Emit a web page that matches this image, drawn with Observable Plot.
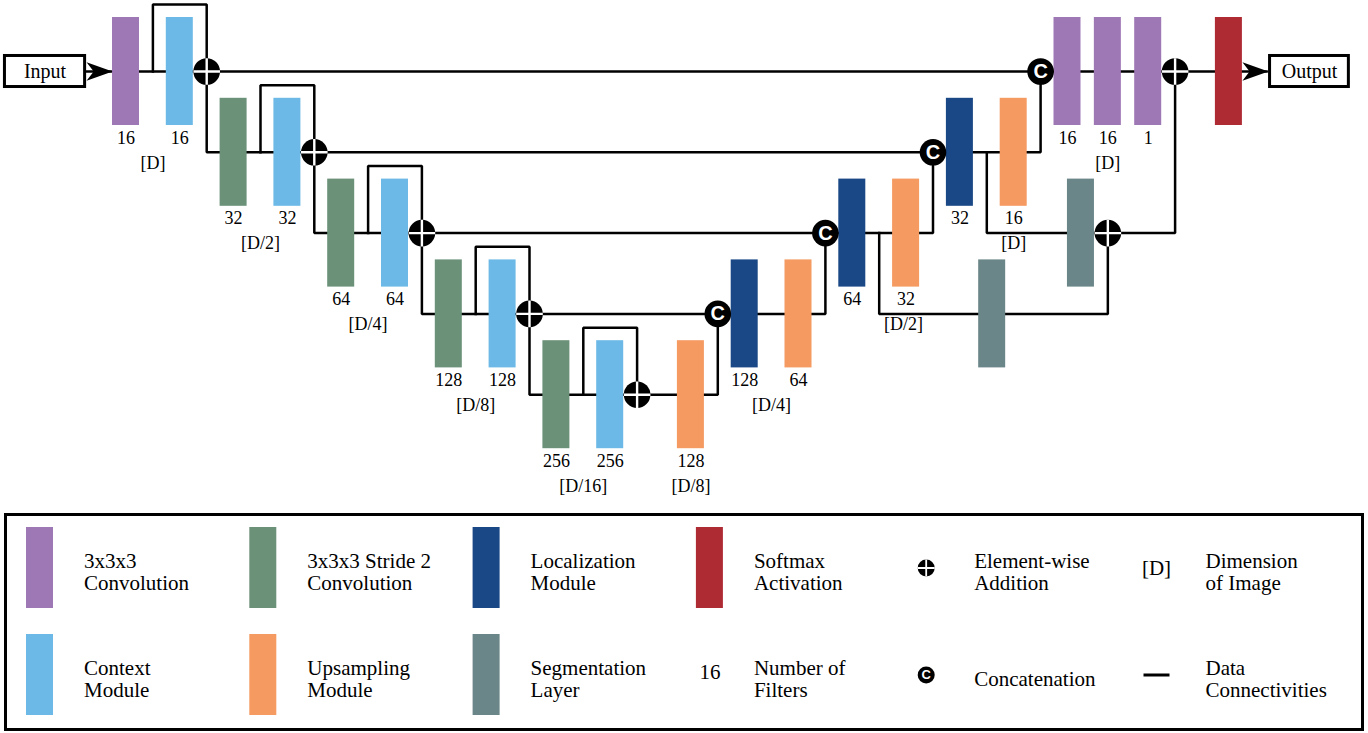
<!DOCTYPE html>
<html><head><meta charset="utf-8">
<script src="https://cdn.jsdelivr.net/npm/d3@7"></script>
<script src="https://cdn.jsdelivr.net/npm/@observablehq/plot@0.6"></script>
<style>body{margin:0;background:#fff;} svg{display:block;}</style>
</head><body><div id="chart"></div>
<script>
// ---------- DATA ----------
// block kinds and their colours
const kindNames  = ["conv", "context", "stride", "up", "loc", "seg", "softmax"];
const kindColors = ["#9E77B5", "#6CB9E7", "#6B9279", "#F59A60", "#1A4886", "#6B8689", "#AE2B34"];

// encoder path: grid column c, depth level L, number of filters
const encoderBlocks = [
  {kind: "conv",    c: 0,  L: 0, filters: "16"},
  {kind: "context", c: 2,  L: 0, filters: "16"},
  {kind: "stride",  c: 4,  L: 1, filters: "32"},
  {kind: "context", c: 6,  L: 1, filters: "32"},
  {kind: "stride",  c: 8,  L: 2, filters: "64"},
  {kind: "context", c: 10, L: 2, filters: "64"},
  {kind: "stride",  c: 12, L: 3, filters: "128"},
  {kind: "context", c: 14, L: 3, filters: "128"},
  {kind: "stride",  c: 16, L: 4, filters: "256"},
  {kind: "context", c: 18, L: 4, filters: "256"}
];
// decoder path
const decoderBlocks = [
  {kind: "up",      c: 21,   L: 4, filters: "128"},
  {kind: "loc",     c: 23,   L: 3, filters: "128"},
  {kind: "up",      c: 25,   L: 3, filters: "64"},
  {kind: "loc",     c: 27,   L: 2, filters: "64"},
  {kind: "up",      c: 29,   L: 2, filters: "32"},
  {kind: "loc",     c: 31,   L: 1, filters: "32"},
  {kind: "up",      c: 33,   L: 1, filters: "16"},
  {kind: "conv",    c: 35,   L: 0, filters: "16"},
  {kind: "conv",    c: 36.5, L: 0, filters: "16"},
  {kind: "conv",    c: 38,   L: 0, filters: "1"},
  {kind: "softmax", c: 41,   L: 0, filters: ""}
];
// segmentation layers
const segBlocks = [
  {kind: "seg", c: 32.2, L: 3},
  {kind: "seg", c: 35.5, L: 2}
];
// image dimension labels
const dimLabels = [
  {c: 1,    L: 0, text: "[D]"},
  {c: 5,    L: 1, text: "[D/2]"},
  {c: 9,    L: 2, text: "[D/4]"},
  {c: 13,   L: 3, text: "[D/8]"},
  {c: 17,   L: 4, text: "[D/16]"},
  {c: 21,   L: 4, text: "[D/8]"},
  {c: 24,   L: 3, text: "[D/4]"},
  {c: 28.9, L: 2, text: "[D/2]"},
  {c: 33,   L: 1, text: "[D]"},
  {c: 36.5, L: 0, text: "[D]"}
];
// element-wise additions and concatenations
const addNodes    = [{c: 3, L: 0}, {c: 7, L: 1}, {c: 11, L: 2}, {c: 15, L: 3}, {c: 19, L: 4}, {c: 36.5, L: 2}, {c: 39, L: 0}];
const concatNodes = [{c: 22, L: 3}, {c: 26, L: 2}, {c: 30, L: 1}, {c: 34, L: 0}];
// residual loops around the context modules (from column -> to column, at level)
const residualLoops = [{from: 1, to: 3, L: 0}, {from: 5, to: 7, L: 1}, {from: 9, to: 11, L: 2}, {from: 13, to: 15, L: 3}, {from: 17, to: 19, L: 4}];
// data connectivities (polylines in grid units)
const wires = [
  [[-1.5, 0], [42.4, 0]],
  [[3, 0], [3, 1], [30, 1]],
  [[7, 1], [7, 2], [26, 2]],
  [[11, 2], [11, 3], [22, 3]],
  [[15, 3], [15, 4], [22, 4], [22, 3]],
  [[22, 3], [26, 3], [26, 2]],
  [[26, 2], [30, 2], [30, 1]],
  [[30, 1], [34, 1], [34, 0]],
  [[28, 2], [28, 3], [36.5, 3], [36.5, 2]],
  [[32, 1], [32, 2], [36.5, 2]],
  [[36.5, 2], [39, 2], [39, 0]]
];
// input / output boxes
const ioBoxes = [
  {label: "Input",  c1: -4.5,  c2: -1.52},
  {label: "Output", c1: 42.53, c2: 45.46}
];
const arrowTips = [{c: -0.5, L: 0}, {c: 42.47, L: 0}];

// legend
const legendItems = [
  {col: 0, row: 0, kind: "conv",    text: "3x3x3\nConvolution"},
  {col: 1, row: 0, kind: "stride",  text: "3x3x3 Stride 2\nConvolution"},
  {col: 2, row: 0, kind: "loc",     text: "Localization\nModule"},
  {col: 3, row: 0, kind: "softmax", text: "Softmax\nActivation"},
  {col: 4, row: 0, kind: "add",     text: "Element-wise\nAddition"},
  {col: 5, row: 0, kind: "dim",     text: "Dimension\nof Image"},
  {col: 0, row: 1, kind: "context", text: "Context\nModule"},
  {col: 1, row: 1, kind: "up",      text: "Upsampling\nModule"},
  {col: 2, row: 1, kind: "seg",     text: "Segmentation\nLayer"},
  {col: 3, row: 1, kind: "filters", text: "Number of\nFilters"},
  {col: 4, row: 1, kind: "concat",  text: "Concatenation"},
  {col: 5, row: 1, kind: "wire",    text: "Data\nConnectivities"}
];

// ---------- LAYOUT ----------
const W = 1368, H_MAIN = 508, H_LEG = 225;
const X0 = 125.5, UX = 26.9, Y0 = 71, UY = 80.8;
const BW = 13.5 / UX, BH = 54 / UY;
const LOOP_RISE = 0.83, NUM_OFF = 0.82, DIM_OFF = 1.13, BOX_H = 0.192;
const SERIF = "Liberation Serif, Times New Roman, serif";
const colorScale = {type: "ordinal", domain: kindNames, range: kindColors};

const crossSymbol = {draw(ctx, size) {
  const r = Math.sqrt(size / Math.PI);
  ctx.moveTo(-r, 0); ctx.lineTo(r, 0); ctx.moveTo(0, -r); ctx.lineTo(0, r);
}};
const arrowSymbol = {draw(ctx, size) {
  const r = Math.sqrt(size / Math.PI);
  ctx.moveTo(0, 0);
  ctx.lineTo(-2 * r, -0.72 * r);
  ctx.lineTo(-1.45 * r, 0);
  ctx.lineTo(-2 * r, 0.72 * r);
  ctx.closePath();
}};

const loopWires = residualLoops.map(d => [[d.from, d.L], [d.from, d.L - LOOP_RISE], [d.to, d.L - LOOP_RISE], [d.to, d.L]]);
const wireRows = [...wires, ...loopWires].flatMap((pts, id) => pts.map(([c, L]) => ({id, c, L})));
const allBlocks = [...encoderBlocks, ...decoderBlocks, ...segBlocks];
const labelled = [...encoderBlocks, ...decoderBlocks].filter(d => d.filters);

const main = Plot.plot({
  width: W, height: H_MAIN, margin: 0,
  style: {fontFamily: SERIF, background: "white", overflow: "visible"},
  x: {domain: [(0 - X0) / UX, (W - X0) / UX], axis: null},
  y: {domain: [(0 - Y0) / UY, (H_MAIN - Y0) / UY], reverse: true, axis: null},
  color: colorScale,
  marks: [
    Plot.line(wireRows, {x: "c", y: "L", z: "id", stroke: "black", strokeWidth: 2.5, strokeLinejoin: "miter", strokeLinecap: "square"}),
    Plot.rect(allBlocks, {x1: d => d.c - BW, x2: d => d.c + BW, y1: d => d.L - BH, y2: d => d.L + BH, fill: "kind"}),
    Plot.dot(addNodes, {x: "c", y: "L", r: 13.3, fill: "black", stroke: "none"}),
    Plot.dot(addNodes, {x: "c", y: "L", r: 13.3, symbol: crossSymbol, fill: "none", stroke: "white", strokeWidth: 2.4}),
    Plot.dot(concatNodes, {x: "c", y: "L", r: 13.3, fill: "black", stroke: "none"}),
    Plot.text(concatNodes, {x: "c", y: "L", text: d => "C", fill: "white", fontWeight: "bold", fontSize: 20, fontFamily: "Liberation Sans, Arial, sans-serif"}),
    Plot.rect(ioBoxes, {x1: "c1", x2: "c2", y1: () => -BOX_H, y2: () => BOX_H, fill: "white", stroke: "black", strokeWidth: 3}),
    Plot.text(ioBoxes, {x: d => (d.c1 + d.c2) / 2, y: () => 0, text: "label", fontSize: 20, fill: "black"}),
    Plot.dot(arrowTips, {x: "c", y: "L", r: 13, symbol: arrowSymbol, fill: "black", stroke: "none"}),
    Plot.text(labelled, {x: "c", y: d => d.L + NUM_OFF, text: "filters", fontSize: 18, fill: "black"}),
    Plot.text(dimLabels, {x: "c", y: d => d.L + DIM_OFF, text: "text", fontSize: 18, fill: "black"})
  ]
});

// legend layout: swatch centre = LX0 + col*LUX, row centre = LY0 + row*LUY
const LX0 = 39.5, LUX = 223.3, LY0 = 59.5, LUY = 107;
const SW = 13.5 / LUX, SH = 40.5 / LUY;
const swatchItems = legendItems.filter(d => kindNames.includes(d.kind));
const textDx = [44, 44, 44, 44, 41, 49];

const legend = Plot.plot({
  width: W, height: H_LEG, margin: 0,
  style: {fontFamily: SERIF, background: "white", overflow: "visible"},
  x: {domain: [(0 - LX0) / LUX, (W - LX0) / LUX], axis: null},
  y: {domain: [(0 - LY0) / LUY, (H_LEG - LY0) / LUY], reverse: true, axis: null},
  color: colorScale,
  marks: [
    Plot.frame({stroke: "black", strokeWidth: 3, insetLeft: 5, insetRight: 6, insetTop: 6, insetBottom: 4}),
    Plot.rect(swatchItems, {x1: d => d.col - SW, x2: d => d.col + SW, y1: d => d.row - SH, y2: d => d.row + SH, fill: "kind"}),
    Plot.dot(legendItems.filter(d => d.kind === "add" || d.kind === "concat"), {x: "col", y: "row", r: 8.5, dx: -7, fill: "black", stroke: "none"}),
    Plot.dot(legendItems.filter(d => d.kind === "add"), {x: "col", y: "row", r: 8.5, dx: -7, symbol: crossSymbol, fill: "none", stroke: "white", strokeWidth: 1.8}),
    Plot.text(legendItems.filter(d => d.kind === "concat"), {x: "col", y: "row", dx: -7, text: d => "C", fill: "white", fontWeight: "bold", fontSize: 13, fontFamily: "Liberation Sans, Arial, sans-serif"}),
    Plot.text(legendItems.filter(d => d.kind === "dim"), {x: "col", y: "row", text: d => "[D]", fontSize: 21, fill: "black"}),
    Plot.text(legendItems.filter(d => d.kind === "filters"), {x: "col", y: "row", dy: -3, text: d => "16", fontSize: 21, fill: "black"}),
    Plot.link(legendItems.filter(d => d.kind === "wire"), {x1: d => d.col - 13 / LUX, x2: d => d.col + 13 / LUX, y1: "row", y2: "row", stroke: "black", strokeWidth: 3}),
    Plot.text(legendItems, {x: d => d.col + textDx[d.col] / LUX, y: "row", text: "text", textAnchor: "start", lineAnchor: "middle", lineHeight: 1.02, fontSize: 21, fill: "black", dy: 4})
  ]
});

document.getElementById("chart").append(main, legend);
</script></body></html>
